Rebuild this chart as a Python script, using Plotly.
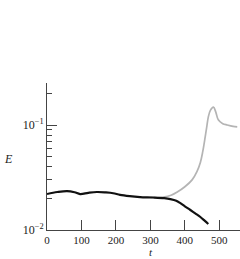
import plotly.graph_objects as go

# Black curve (full run)
t_black = [0, 30, 58, 80, 96, 120, 145, 170, 192, 212, 240, 270, 308, 340, 358, 375, 387, 400, 416, 430, 445, 458, 468]
E_black = [0.0220, 0.0230, 0.0235, 0.0229, 0.0220, 0.0226, 0.0230, 0.0228, 0.0224, 0.0216, 0.0210, 0.0206, 0.0204, 0.0201, 0.0197, 0.0190, 0.0180, 0.0168, 0.0155, 0.0144, 0.0133, 0.0122, 0.0114]

# Gray curve (branch)
t_gray = [300, 320, 337, 360, 378, 400, 421, 435, 445, 452, 459, 464, 468, 474, 483, 490, 497, 510, 523, 540, 552]
E_gray = [0.0204, 0.0204, 0.0206, 0.0214, 0.0230, 0.0258, 0.0300, 0.0360, 0.0440, 0.0560, 0.0770, 0.0980, 0.1190, 0.1380, 0.1480, 0.1320, 0.1120, 0.1030, 0.1000, 0.0970, 0.0960]

x_ticks = [0, 100, 200, 300, 400, 500]
y_ticks = [0.01, 0.1]
y_ticktext = ["10<sup>−2</sup>", "10<sup>−1</sup>"]
y_minor = [0.02, 0.03, 0.04, 0.05, 0.06, 0.07, 0.08, 0.09, 0.2]

fig = go.Figure()
fig.add_trace(go.Scatter(x=t_gray, y=E_gray, mode="lines",
                         line=dict(color="#b4b4b4", width=1.7, shape="spline"), showlegend=False))
fig.add_trace(go.Scatter(x=t_black, y=E_black, mode="lines",
                         line=dict(color="#111111", width=2.2, shape="spline"), showlegend=False))

font = dict(family="Liberation Serif, Times New Roman, serif", size=12, color="#222")
tfont = dict(family="Liberation Serif, Times New Roman, serif", size=11, color="#222")
fig.update_layout(
    width=240, height=259,
    margin=dict(l=47, r=0, t=83, b=29),
    paper_bgcolor="white", plot_bgcolor="white",
    font=font,
    xaxis=dict(range=[0, 560], tickvals=x_ticks, ticks="inside", ticklen=10,
               tickcolor="#444", showline=True, linecolor="#444", linewidth=1,
               showgrid=False, zeroline=False, tickfont=tfont),
    yaxis=dict(type="log", range=[-2, -0.6], tickvals=y_ticks, ticktext=y_ticktext,
               ticks="inside", ticklen=10, tickcolor="#444", showline=True,
               linecolor="#444", linewidth=1, showgrid=False, zeroline=False,
               tickfont=font,
               minor=dict(tickvals=y_minor, ticks="inside", ticklen=5, tickcolor="#444")),
)
fig.add_annotation(text="<i>E</i>", xref="paper", yref="paper", x=-0.2, y=0.48,
                   showarrow=False, font=font, xanchor="center")
fig.add_annotation(text="<i>t</i>", xref="paper", yref="paper", x=0.54, y=-0.195,
                   showarrow=False, font=tfont, xanchor="center", yanchor="bottom",
                   borderpad=0)

fig.write_html("out.html", config={"displayModeBar": False},
               post_script="document.body.style.margin='0';")
